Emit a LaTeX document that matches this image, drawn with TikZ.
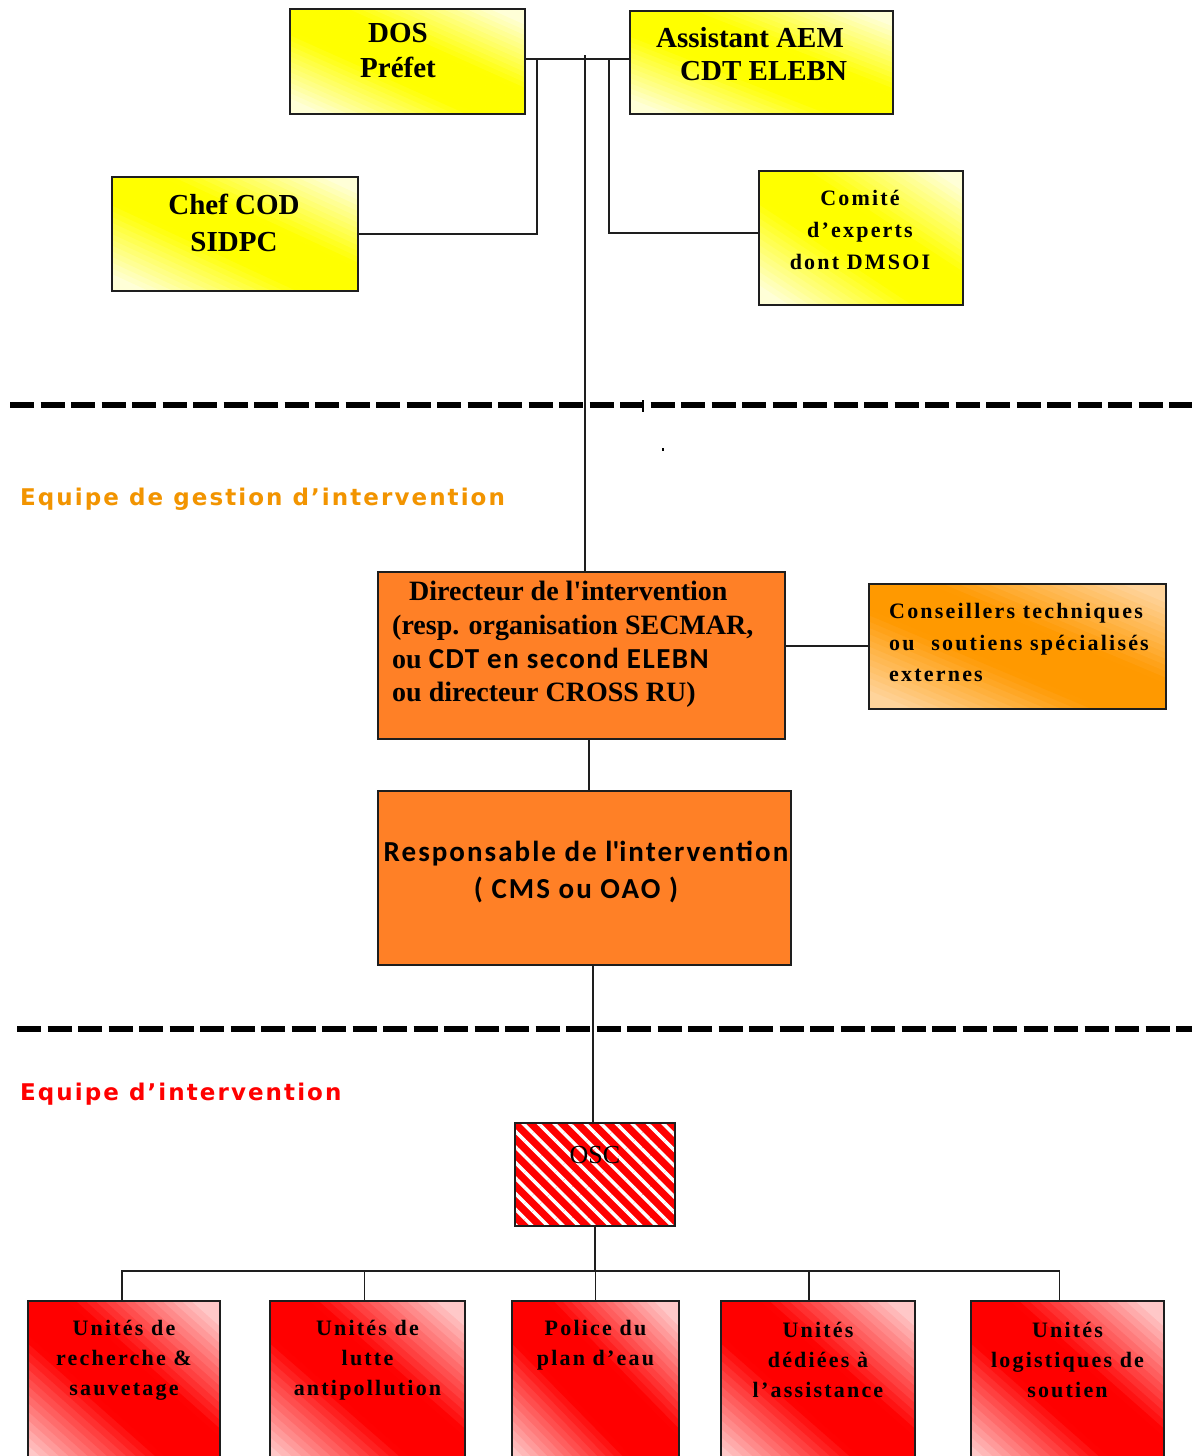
\documentclass[tikz,border=0pt]{standalone}
\usepackage{fontspec}
\usetikzlibrary{patterns.meta}
\setmainfont{Liberation Serif}
\newfontfamily\spacedserif{Liberation Serif}[LetterSpace=10]
\newfontfamily\labelsans{DejaVu Sans}[LetterSpace=9]
\newfontfamily\calsans{Carlito}[LetterSpace=5]
\newfontfamily\respsans{Carlito}[LetterSpace=7]

\definecolor{boxyellow}{RGB}{255,255,0}
\definecolor{paleyellow}{RGB}{255,255,215}
\definecolor{dirorange}{RGB}{255,128,38}
\definecolor{consorange}{RGB}{255,153,0}
\definecolor{paleorange}{RGB}{255,212,155}
\definecolor{unitred}{RGB}{255,0,0}
\definecolor{palered}{RGB}{255,200,200}
\definecolor{gestorange}{RGB}{242,148,0}
\definecolor{edge}{RGB}{30,30,30}

% Diagonal gradient inside a rectangle: full colour along the
% top-left/bottom-right diagonal, fading to the pale colour in the
% two other corners.  Args: x, y (top left), width, height, colour, pale colour.
\newcommand\bandfill[6]{%
  \begin{scope}
    \clip (#1,#2) rectangle ++(#3,#4);
    \begin{scope}[shift={(#1,#2)}, x=#3pt, y=-#4pt]
      \foreach \i in {0,...,39}{
        \pgfmathsetmacro\ta{-1+\i*0.05}
        \pgfmathsetmacro\tb{\ta+0.056}
        \pgfmathsetmacro\tc{abs(\ta+0.025)}
        \pgfmathtruncatemacro\p{100*(1-min(1,max(0,(\tc-0.22)/0.66)))}
        \fill[#5!\p!#6] (\ta-0.1,-0.1) -- (\ta+1.1,1.1) -- (\tb+1.1,1.1) -- (\tb-0.1,-0.1) -- cycle;
      }
    \end{scope}
  \end{scope}}

\tikzset{
  box/.style={draw=edge, line width=1.5pt, inner sep=0pt, outer sep=0pt, anchor=north west},
  dirbox/.style={box, fill=dirorange},
  unitbox/.style={box, minimum height=170pt},
  oscbox/.style={box, preaction={fill=unitred}, pattern={Lines[angle=-45,distance=11pt,line width=3.5pt]}, pattern color=white},
  toptext/.style={font=\fontsize{29}{35}\selectfont\bfseries, align=center, inner sep=0pt},
  smalltext/.style={font=\spacedserif\fontsize{22}{32}\selectfont\bfseries, align=center, inner sep=0pt},
  unittext/.style={font=\spacedserif\fontsize{22}{30}\selectfont\bfseries, align=center, inner sep=0pt},
  dirtext/.style={font=\fontsize{28}{33.7}\selectfont\bfseries, align=left, inner sep=0pt, anchor=west},
  resptext/.style={font=\respsans\fontsize{29}{37}\selectfont\bfseries, align=center, inner sep=0pt},
  sectlabel/.style={font=\labelsans\fontsize{23}{27}\selectfont\bfseries, inner sep=0pt, anchor=west},
  link/.style={draw=edge, line width=1.6pt},
  separator/.style={line width=6pt, dash pattern=on 24pt off 6.5pt, black}
}

\begin{document}
\begin{tikzpicture}[x=1pt, y=-1pt]
  \useasboundingbox (0,0) rectangle (1192,1456);
  \clip (0,0) rectangle (1192,1456);
  \fill[white] (0,0) rectangle (1192,1456);

  % --- strategic level ---
  \bandfill{290}{9}{235}{105}{boxyellow}{paleyellow}
  \node[box, minimum width=235pt, minimum height=105pt] (dos) at (290,9) {};
  \node[toptext] (dos-t) at (398,50.5) {DOS\\Préfet};

  \bandfill{630}{11}{263}{103}{boxyellow}{paleyellow}
  \node[box, minimum width=263pt, minimum height=103pt] (asst) at (630,11) {};
  \node[toptext, align=left, anchor=west, font=\fontsize{29}{33}\selectfont\bfseries] (asst-t) at (656,54.5) {Assistant AEM\\\hspace*{24pt}CDT ELEBN};

  \bandfill{112}{177}{246}{114}{boxyellow}{paleyellow}
  \node[box, minimum width=246pt, minimum height=114pt] (chef) at (112,177) {};
  \node[toptext, font=\fontsize{29}{37}\selectfont\bfseries] (chef-t) at (234,222.5) {Chef COD\\SIDPC};

  \bandfill{759}{171}{204}{134}{boxyellow}{paleyellow}
  \node[box, minimum width=204pt, minimum height=134pt] (comite) at (759,171) {};
  \node[smalltext] (comite-t) at (860,230) {Comité\\d’experts\\dont DMSOI};

  % --- separators ---
  \draw[separator] (10,405) -- (1192,405);
  \draw[line width=1.2pt] (643,400) -- (643,412);
  \fill (662,447.5) rectangle (664,450.5);
  \draw[separator] (17,1029) -- (1192,1029);

  % --- intervention management team ---
  \node[sectlabel, text=gestorange] (gest-l) at (20,499) {Equipe de gestion d’intervention};

  \node[dirbox, minimum width=407pt, minimum height=167pt] (dir) at (378,572) {};
  \node[dirtext] (dir-t) at (392,644.5) {\hspace*{17pt}Directeur de l\textquotesingle intervention\\(resp. organisation SECMAR,\\ou {\calsans\fontsize{29}{33.7}\selectfont CDT en second ELEBN}\\ou directeur CROSS RU)};

  \bandfill{869}{584}{297}{125}{consorange}{paleorange}
  \node[box, minimum width=297pt, minimum height=125pt] (cons) at (869,584) {};
  \node[smalltext, align=left, anchor=west, font=\spacedserif\fontsize{22}{31.5}\selectfont\bfseries] (cons-t) at (889,642.5) {Conseillers techniques\\ou\hspace{9pt} soutiens spécialisés\\externes};

  \node[dirbox, minimum width=413pt, minimum height=174pt] (resp) at (378,791) {};
  \node[resptext] (resp-t) at (586,871.5) {Responsable de l\textquotesingle intervention\\( CMS ou OAO )\hspace*{20pt}};

  % --- intervention team ---
  \node[sectlabel, text=unitred] (int-l) at (20,1094) {Equipe d’intervention};

  \node[oscbox, minimum width=160pt, minimum height=103pt] (osc) at (515,1123) {};
  \node[inner sep=0pt, font=\fontsize{26}{30}\selectfont] (osc-t) at (595,1155) {OSC};

  \bandfill{28}{1301}{192}{170}{unitred}{palered}
  \bandfill{270}{1301}{195}{170}{unitred}{palered}
  \bandfill{512}{1301}{167}{170}{unitred}{palered}
  \bandfill{721}{1301}{194}{170}{unitred}{palered}
  \bandfill{971}{1301}{193}{170}{unitred}{palered}
  \node[unitbox, minimum width=192pt] (u1) at (28,1301) {};
  \node[unitbox, minimum width=195pt] (u2) at (270,1301) {};
  \node[unitbox, minimum width=167pt] (u3) at (512,1301) {};
  \node[unitbox, minimum width=194pt] (u4) at (721,1301) {};
  \node[unitbox, minimum width=193pt] (u5) at (971,1301) {};

  \node[unittext] (u1-t) at (124,1360) {Unités de\\recherche \&\\sauvetage};
  \node[unittext] (u2-t) at (367.5,1360) {Unités de\\lutte\\antipollution};
  \node[unittext] (u3-t) at (595.5,1345) {Police du\\plan d’eau};
  \node[unittext] (u4-t) at (818,1360) {Unités\\dédiées à\\l’assistance};
  \node[unittext] (u5-t) at (1067.5,1360) {Unités\\logistiques de\\soutien};

  % --- connectors ---
  \coordinate (tapL) at (537,59);
  \coordinate (tapM) at (585,55);
  \coordinate (tapR) at (609,59);
  \draw[link] (dos.east |- tapR) -- (asst.west |- tapR);
  \draw[link] (chef.east) -| (tapL);
  \draw[link] ([yshift=5pt]comite.west) -| (tapR);
  \draw[link] (tapM) -- (tapM |- dir.north);
  \coordinate (constap) at (870,646);
  \draw[link] (constap) -- (constap -| dir.east);

  \coordinate (dirstem) at (589,700);
  \draw[link] (dirstem |- dir.south) -- (dirstem |- resp.north);
  \coordinate (respstem) at (593,1000);
  \draw[link] (respstem |- resp.south) -- (respstem |- osc.north);

  \coordinate (bus) at (595,1271);
  \coordinate (d1) at ([xshift=-2pt]u1.north);
  \coordinate (d2) at ([xshift=-3pt]u2.north);
  \coordinate (d4) at ([xshift=-9pt]u4.north);
  \coordinate (d5) at ([xshift=-8pt]u5.north);
  \draw[link] (osc.south) -- (bus);
  \draw[link] (d1) |- (bus) -| (d5);
  \draw[link] (d2) -- (d2 |- bus);
  \draw[link] (u3.north) -- (u3.north |- bus);
  \draw[link] (d4) -- (d4 |- bus);
\end{tikzpicture}
\end{document}
